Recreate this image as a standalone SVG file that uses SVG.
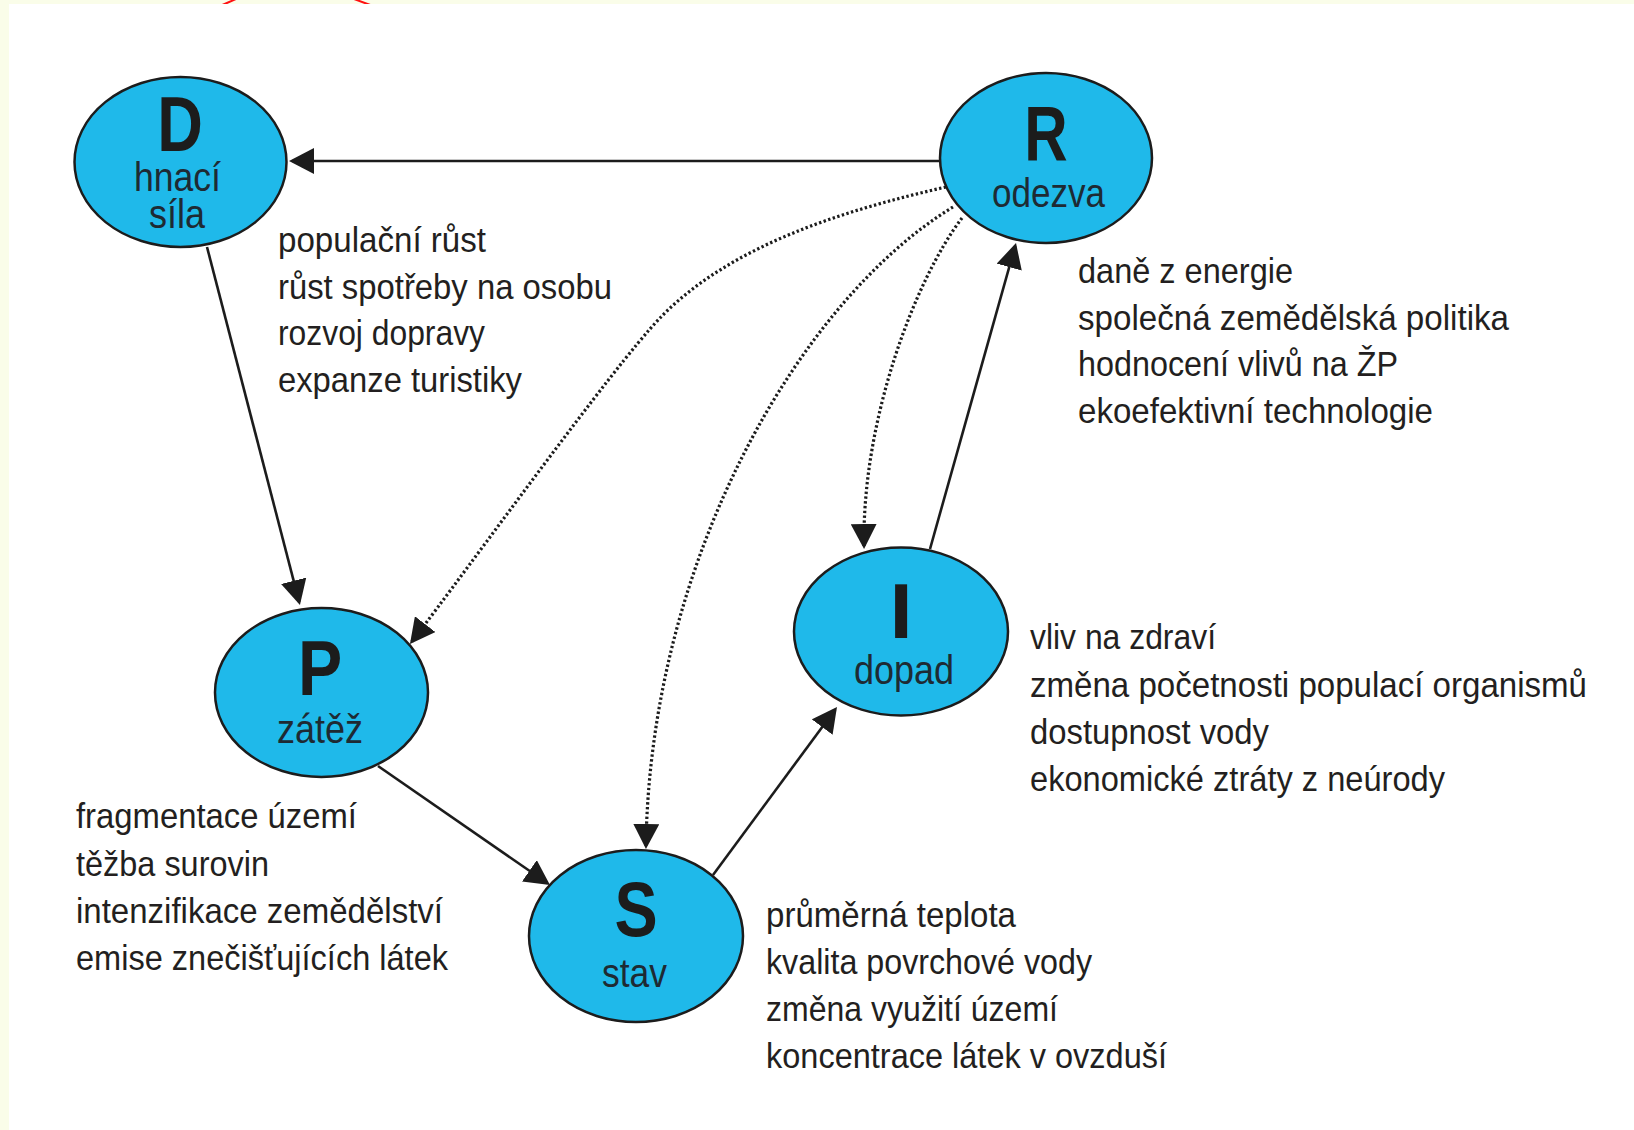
<svg xmlns="http://www.w3.org/2000/svg" width="1634" height="1130" viewBox="0 0 1634 1130">
  <style>
    .node { fill: #1fb9ea; stroke: #1c1c1c; stroke-width: 2.5; }
    .big { font-family: "Liberation Sans", Arial, sans-serif; font-weight: bold; font-size: 78px; fill: #1c1c1c; text-anchor: middle; }
    .name { font-family: "Liberation Sans", Arial, sans-serif; font-size: 40px; fill: #1e2a33; text-anchor: middle; }
    .item { font-family: "Liberation Sans", Arial, sans-serif; font-size: 35px; fill: #231f20; }
    .solid { fill: none; stroke: #1c1c1c; stroke-width: 2.6; marker-end: url(#head); }
    .dotted { fill: none; stroke: #1c1c1c; stroke-width: 3.2; stroke-dasharray: 2.4 2.4; marker-end: url(#head); }
  </style>
  <defs>
    <marker id="head" markerUnits="userSpaceOnUse" markerWidth="26" markerHeight="26" refX="22" refY="13" orient="auto">
      <path d="M0,0 L25,13 L0,26 Z" fill="#1c1c1c"/>
    </marker>
  </defs>

  <!-- page frame -->
  <rect x="0" y="0" width="1634" height="1130" fill="#fafde9"/>
  <line x1="236" y1="-1" x2="220" y2="6" stroke="#ff1010" stroke-width="2"/>
  <line x1="354" y1="-1" x2="373" y2="6" stroke="#ff1010" stroke-width="2"/>
  <rect x="9" y="4" width="1625" height="1126" fill="#ffffff"/>

  <g id="connectors">
    <!-- R -> D -->
    <path class="solid" d="M945,161 L292,161"/>
    <!-- D -> P -->
    <path class="solid" d="M207,247 L299.2,602.1"/>
    <!-- P -> S -->
    <path class="solid" d="M378,766 L547.5,883.3"/>
    <!-- S -> I -->
    <path class="solid" d="M713,875 L835.2,709.4"/>
    <!-- I -> R -->
    <path class="solid" d="M930,549 L1015.2,245.9"/>
    <!-- R -> P (dotted) -->
    <path class="dotted" d="M946,187 C845,210 730,245 660,318 C612,368 470,566 411.8,641.6"/>
    <!-- R -> S (dotted) -->
    <path class="dotted" d="M953,207 C800,300 650,560 646,846"/>
    <!-- R -> I (dotted) -->
    <path class="dotted" d="M962,218 C915,280 862,420 864,546"/>
  </g>

  <g id="node-D">
    <ellipse class="node" cx="180.5" cy="162" rx="106" ry="85"/>
    <text class="big" transform="translate(180 151) scale(0.81 1)">D</text>
    <text class="name" x="177.5" y="191" textLength="87" lengthAdjust="spacingAndGlyphs">hnací</text>
    <text class="name" x="177" y="228" textLength="56" lengthAdjust="spacingAndGlyphs">síla</text>
  </g>

  <g id="node-R">
    <ellipse class="node" cx="1046" cy="158" rx="106" ry="85"/>
    <text class="big" transform="translate(1046 160) scale(0.77 1)">R</text>
    <text class="name" x="1048.5" y="207" textLength="113" lengthAdjust="spacingAndGlyphs">odezva</text>
  </g>

  <g id="node-P">
    <ellipse class="node" cx="321.5" cy="692.5" rx="106.5" ry="84.5"/>
    <text class="big" transform="translate(320 695) scale(0.85 1)">P</text>
    <text class="name" x="320" y="743" textLength="86" lengthAdjust="spacingAndGlyphs">zátěž</text>
  </g>

  <g id="node-S">
    <ellipse class="node" cx="636" cy="936" rx="107" ry="86"/>
    <text class="big" transform="translate(636 936) scale(0.83 1)">S</text>
    <text class="name" x="634.5" y="987" textLength="65" lengthAdjust="spacingAndGlyphs">stav</text>
  </g>

  <g id="node-I">
    <ellipse class="node" cx="901" cy="631.5" rx="107" ry="84"/>
    <text class="big" transform="translate(901 638) scale(1.07 1)">I</text>
    <text class="name" x="904" y="684" textLength="100" lengthAdjust="spacingAndGlyphs">dopad</text>
  </g>

  <g id="notes-D">
    <text class="item" x="278" y="252" textLength="208" lengthAdjust="spacingAndGlyphs">populační růst</text>
    <text class="item" x="278" y="298.5" textLength="334" lengthAdjust="spacingAndGlyphs">růst spotřeby na osobu</text>
    <text class="item" x="278" y="345" textLength="207" lengthAdjust="spacingAndGlyphs">rozvoj dopravy</text>
    <text class="item" x="278" y="391.5" textLength="244" lengthAdjust="spacingAndGlyphs">expanze turistiky</text>
  </g>

  <g id="notes-R">
    <text class="item" x="1078" y="283" textLength="215" lengthAdjust="spacingAndGlyphs">daně z energie</text>
    <text class="item" x="1078" y="329.5" textLength="431" lengthAdjust="spacingAndGlyphs">společná zemědělská politika</text>
    <text class="item" x="1078" y="376" textLength="320" lengthAdjust="spacingAndGlyphs">hodnocení vlivů na ŽP</text>
    <text class="item" x="1078" y="422.5" textLength="355" lengthAdjust="spacingAndGlyphs">ekoefektivní technologie</text>
  </g>

  <g id="notes-P">
    <text class="item" x="76" y="828" textLength="281" lengthAdjust="spacingAndGlyphs">fragmentace území</text>
    <text class="item" x="76" y="876" textLength="193" lengthAdjust="spacingAndGlyphs">těžba surovin</text>
    <text class="item" x="76" y="923" textLength="367" lengthAdjust="spacingAndGlyphs">intenzifikace zemědělství</text>
    <text class="item" x="76" y="970" textLength="372" lengthAdjust="spacingAndGlyphs">emise znečišťujících látek</text>
  </g>

  <g id="notes-S">
    <text class="item" x="766" y="927" textLength="250" lengthAdjust="spacingAndGlyphs">průměrná teplota</text>
    <text class="item" x="766" y="974" textLength="326" lengthAdjust="spacingAndGlyphs">kvalita povrchové vody</text>
    <text class="item" x="766" y="1021" textLength="292" lengthAdjust="spacingAndGlyphs">změna využití území</text>
    <text class="item" x="766" y="1068" textLength="401" lengthAdjust="spacingAndGlyphs">koncentrace látek v ovzduší</text>
  </g>

  <g id="notes-I">
    <text class="item" x="1030" y="649" textLength="186" lengthAdjust="spacingAndGlyphs">vliv na zdraví</text>
    <text class="item" x="1030" y="697" textLength="557" lengthAdjust="spacingAndGlyphs">změna početnosti populací organismů</text>
    <text class="item" x="1030" y="744" textLength="239" lengthAdjust="spacingAndGlyphs">dostupnost vody</text>
    <text class="item" x="1030" y="791" textLength="415" lengthAdjust="spacingAndGlyphs">ekonomické ztráty z neúrody</text>
  </g>
</svg>
